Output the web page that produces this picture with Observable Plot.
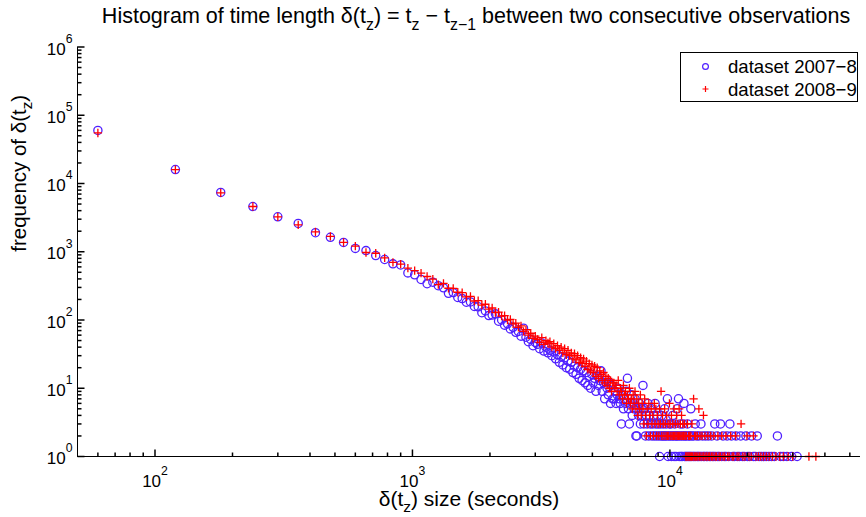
<!DOCTYPE html>
<html><head><meta charset="utf-8">
<script src="https://cdn.jsdelivr.net/npm/d3@7"></script>
<script src="https://cdn.jsdelivr.net/npm/@observablehq/plot@0.6"></script>
<style>
body{margin:0;background:#fff;}
#wrap{position:relative;width:866px;height:517px;font-family:"Liberation Sans",Arial,Helvetica,sans-serif;}
#legend{position:absolute;left:680px;top:52px;}
</style></head>
<body><div id="wrap"></div>
<script>
// ---- data: histogram bins (seconds) and frequencies ----
const seconds0708 = [
 60,120,180,240,300,360,420,480,540,600,660,720,780,840,900,960,1020,1080,1140,
 1200,1260,1320,1380,1440,1500,1560,1620,1680,1740,1800,1860,1920,1980,2040,2100,2160,2220,2280,2340,2400,2460,2520,2580,2640,2700,2760,2820,2880,2940,3000,
 3060,3120,3180,3240,3300,3360,3420,3480,3540,3600,3660,3720,3780,3840,3900,3960,4020,4080,4140,4200,
 4260,4320,4380,4440,4500,4560,4620,4680,4740,4800,4860,4920,4980,5040,5100,5160,5220,5280,5340,5400,
 5460,5520,5580,5640,5700,5760,5820,5880,5940,6000,
 6060,6120,6180,6240,6300,6360,6420,6480,6540,6600,6660,6720,6780,6840,6900,6960,7020,7080,7140,7200,
 7260,7320,7380,7440,7500,7560,7620,7680,7740,7800,7860,7920,7980,8040,8100,8160,8220,8280,8340,8400,
 8460,8520,8580,8640,8700,8760,8820,8880,8940,9000,9060,9120,9180,9240,9300,9360,9420,9480,9540,9600,
 9660,9720,9780,9840,9900,9960,
 10020,10080,10140,10200,10260,10320,10380,10440,10500,10560,10620,10680,10740,10800,10860,10920,10980,11040,11100,11160,
 11220,11280,11340,11400,11460,11520,11580,11640,11700,11760,11820,11880,11940,12000,12060,12120,12180,12300,12360,12420,
 12540,12600,12720,12780,12900,12960,13080,13200,13260,13380,13500,13620,13740,13860,13980,14100,14220,14400,14520,14640,
 14820,14940,15060,15240,15360,15540,15720,15900,16080,16260,16500,16680,16920,17100,17340,17580,17820,18060,18300,18600,
 18840,19140,19440,19740,20040,20400,20760,21120,21480,21840,22200,22680,23160,23640,24240,24840,25440,26160,26880,27600,
 28500,29700,31200
];
const counts0708 = [
 60000,16000,7400,4600,3250,2600,1900,1630,1370,1120,1040,880,770,665,640,490,460,392,340,
 358,318,296,246,252,214,206,182,184,158,156,128,136,116,118,123,96,100,84,88,74,78,66,68,58,76,56,48,52,42,47,
 44,38,46,35,40,33,36,30,34,27,31,24,29,22,28,20,25,19,24,17,
 21,16,20,14,19,13,18,12,17,11,15,10,16,12,14,9,15,11,13,18,
 9,12,7,13,10,8,12,6,11,7,
 7,9,6,8,10,7,6,3,8,5,7,6,9,14,5,3,6,8,4,6,
 5,7,2,2,5,4,6,3,5,4,11,3,5,2,4,3,6,2,4,3,
 5,2,3,4,2,6,3,2,4,3,2,1,3,2,4,2,3,2,5,2,
 3,2,7,1,2,3,
 2,3,1,2,4,2,1,3,2,1,2,5,2,7,1,2,3,1,2,1,
 3,2,6,1,2,1,2,1,3,1,2,1,2,1,5,1,2,1,2,1,
 3,1,2,1,1,2,1,3,1,2,1,1,2,1,1,2,1,1,2,1,
 1,3,1,2,1,1,3,1,2,1,1,2,1,3,2,1,1,2,1,1,
 2,1,1,2,1,1,2,1,1,2,1,1,1,1,1,1,1,2,1,1,
 1,1,1
];
const seconds0809 = [
 60,120,180,240,300,360,420,480,540,600,660,720,780,840,900,960,1020,1080,1140,
 1200,1260,1320,1380,1440,1500,1560,1620,1680,1740,1800,1860,1920,1980,2040,2100,2160,2220,2280,2340,2400,2460,2520,2580,2640,2700,2760,2820,2880,2940,3000,
 3060,3120,3180,3240,3300,3360,3420,3480,3540,3600,3660,3720,3780,3840,3900,3960,4020,4080,4140,4200,
 4260,4320,4380,4440,4500,4560,4620,4680,4740,4800,4860,4920,4980,5040,5100,5160,5220,5280,5340,5400,
 5460,5520,5580,5640,5700,5760,5820,5880,5940,6000,
 6060,6120,6180,6240,6300,6360,6420,6480,6540,6600,6660,6720,6780,6840,6900,6960,7020,7080,7140,7200,
 7260,7320,7380,7440,7500,7560,7620,7680,7740,7800,7860,7920,7980,8040,8100,8160,8220,8280,8340,8400,
 8460,8520,8580,8640,8700,8760,8820,8880,8940,9000,9060,9120,9180,9240,9300,9360,9420,9480,9540,9600,
 9660,9720,9780,9840,9900,9960,
 10020,10080,10140,10200,10260,10320,10380,10440,10500,10560,10620,10680,10740,10800,10860,10920,10980,11040,11100,11160,
 11220,11280,11340,11400,11460,11520,11580,11640,11700,11760,11820,11880,11940,12000,12060,12120,12180,12240,12360,12420,
 12480,12540,12600,12660,12780,12840,12960,13020,13080,13200,13320,13440,13500,13560,13680,13800,13920,14040,14160,14280,
 14400,14520,14700,14820,15000,15180,15360,15540,15720,15900,16080,16320,16500,16740,16980,17220,17460,17700,18000,18240,
 18540,18900,19200,19560,19920,20280,20700,21120,21600,22080,22560,23100,23700,24300,25020,25800,26700,27600,28800,30000,
 34680,36900
];
const counts0809 = [
 55000,16000,7300,4600,3250,2480,1950,1680,1370,1210,975,950,815,700,660,575,530,485,434,
 396,330,345,292,290,255,252,218,222,190,192,165,170,144,150,128,130,114,116,100,102,88,90,78,82,68,72,60,64,54,58,
 52,47,55,44,50,46,48,40,45,38,42,36,40,33,38,31,36,30,33,27,
 32,26,30,24,28,23,27,21,25,19,23,18,22,17,21,15,20,14,18,16,
 13,17,12,15,11,14,10,13,9,12,
 12,10,11,9,13,8,10,9,7,11,8,9,6,8,7,10,6,7,5,8,
 6,9,5,7,4,6,5,8,4,6,5,3,7,4,2,5,3,6,4,2,
 5,3,4,2,6,3,5,2,4,3,2,5,3,9,2,4,3,2,5,3,
 2,4,2,3,2,6,
 3,2,4,2,3,2,5,2,3,2,4,2,3,2,5,2,3,2,4,2,
 3,2,2,3,2,1,2,1,3,1,2,1,2,1,2,1,3,1,7,1,
 2,1,2,1,2,1,5,1,2,1,2,1,4,1,2,1,1,2,1,1,
 2,1,1,2,1,1,2,1,1,2,1,1,2,1,1,2,1,1,2,1,
 1,3,1,1,2,1,1,2,1,1,1,1,1,1,1,1,1,1,1,1,
 1,1
];
const seriesNames = ["dataset 2007\u22128", "dataset 2008\u22129"];
const xMajorTicks = [100, 1000, 10000];
const xMinorTicks = [60,70,80,90,200,300,400,500,600,700,800,900,2000,3000,4000,5000,6000,7000,8000,9000,20000,30000,40000,50000];
const yMajorTicks = [1,10,100,1000,10000,100000,1000000];
const yMinorTicks = [];
[1,10,100,1000,10000,100000].forEach(b => [2,3,4,5,6,7,8,9].forEach(m => yMinorTicks.push(b*m)));

const titleText = "Histogram of time length \u03b4(t_{z}) = t_{z} \u2212 t_{z\u22121} between two consecutive observations";
const xLabel = "\u03b4(t_{z}) size (seconds)";
const yLabel = "frequency of \u03b4(t_{z})";

// ---- build ----
const rows0708 = seconds0708.map((s, i) => ({sec: s, count: counts0708[i]}));
const rows0809 = seconds0809.map((s, i) => ({sec: s, count: counts0809[i]}));
const BLUE = "#4f1fff", RED = "#ff0000";
const FONT = "'Liberation Sans', Arial, Helvetica, sans-serif";
const tickUp = {draw(c, size) { const l = Math.sqrt(size / Math.PI); c.moveTo(0, 0); c.lineTo(0, -l); }};
const tickRight = {draw(c, size) { const l = Math.sqrt(size / Math.PI); c.moveTo(0, 0); c.lineTo(l, 0); }};
const expLabel = d => `10^{${Math.round(Math.log10(d))}}`;

const svg = Plot.plot({
  width: 866, height: 517,
  marginLeft: 77, marginRight: 6, marginTop: 46.5, marginBottom: 61,
  style: {fontFamily: FONT, background: "white", overflow: "visible", color: "#000"},
  x: {type: "log", domain: [50, 55000], axis: null},
  y: {type: "log", domain: [1, 1e6], axis: null},
  marks: [
    Plot.dot(rows0708, {x: "sec", y: "count", r: 4.1, symbol: "circle", stroke: BLUE, fill: "none", strokeWidth: 1.3}),
    Plot.dot(rows0809, {x: "sec", y: "count", r: 2.8, symbol: "plus", stroke: RED, strokeWidth: 1.3}),
    Plot.ruleX([50], {stroke: "#000", strokeWidth: 1}),
    Plot.ruleY([1], {stroke: "#000", strokeWidth: 1}),
    Plot.dot(xMajorTicks, {x: d => d, y: 1, r: 7, symbol: tickUp, stroke: "#000", fill: "none"}),
    Plot.dot(xMinorTicks, {x: d => d, y: 1, r: 4, symbol: tickUp, stroke: "#000", fill: "none"}),
    Plot.dot(yMajorTicks, {x: 50, y: d => d, r: 7, symbol: tickRight, stroke: "#000", fill: "none"}),
    Plot.dot(yMinorTicks, {x: 50, y: d => d, r: 4, symbol: tickRight, stroke: "#000", fill: "none"}),
    Plot.text(yMajorTicks, {x: 50, y: d => d, text: expLabel, textAnchor: "end", lineAnchor: "bottom", dx: -5, dy: 7.5, fontSize: 17, fill: "#000"}),
    Plot.text(xMajorTicks, {x: d => d, y: 1, text: expLabel, textAnchor: "middle", lineAnchor: "bottom", dy: 30, fontSize: 17, fill: "#000"}),
    Plot.text([titleText], {frameAnchor: "top", text: d => d, lineAnchor: "bottom", dy: -24, dx: 7, fontSize: 21.5, fill: "#000"}),
    Plot.text([xLabel], {frameAnchor: "bottom", text: d => d, lineAnchor: "bottom", dy: 49, fontSize: 21, fill: "#000"}),
    Plot.text([yLabel], {frameAnchor: "left", text: d => d, lineAnchor: "bottom", rotate: -90, dx: -52, fontSize: 20.5, fill: "#000"})
  ]
});
document.getElementById("wrap").appendChild(svg);

// rich text: ^{..} superscript, _{..} subscript
const NS = "http://www.w3.org/2000/svg";
svg.querySelectorAll("text").forEach(t => {
  const s = t.textContent;
  if (!/[_^]\{/.test(s)) return;
  const fs = parseFloat(getComputedStyle(t).fontSize) || 16;
  while (t.firstChild) t.removeChild(t.firstChild);
  let shift = 0;
  const add = (str, kind) => {
    if (!str) return;
    const ts = document.createElementNS(NS, "tspan");
    let target = 0;
    if (kind === "^") { target = -0.68 * fs; ts.setAttribute("font-size", 0.72 * fs); }
    else if (kind === "_") { target = 0.32 * fs; ts.setAttribute("font-size", 0.74 * fs); }
    ts.setAttribute("dy", target - shift); shift = target;
    ts.textContent = str;
    t.appendChild(ts);
  };
  const re = /([_^])\{([^}]*)\}/g; let last = 0, m;
  while ((m = re.exec(s))) { add(s.slice(last, m.index), null); add(m[2], m[1]); last = re.lastIndex; }
  add(s.slice(last), null);
});

// legend
const lg = d3.select("#wrap").append("svg").attr("id", "legend")
  .attr("width", 180).attr("height", 52).style("font-family", FONT);
lg.append("rect").attr("x", 0.5).attr("y", 0.5).attr("width", 177).attr("height", 49)
  .attr("fill", "#fff").attr("stroke", "#000").attr("stroke-width", 1);
lg.append("circle").attr("cx", 25.5).attr("cy", 14.5).attr("r", 2.9).attr("fill", "none").attr("stroke", BLUE).attr("stroke-width", 1.2);
lg.append("path").attr("d", "M22.5,37H28.5M25.5,34V40").attr("stroke", RED).attr("stroke-width", 1.2).attr("fill", "none");
seriesNames.forEach((n, i) => lg.append("text").attr("x", 48).attr("y", 21 + i * 22.7)
  .attr("font-size", 18.6).attr("fill", "#000").text(n));
</script>
</body></html>
